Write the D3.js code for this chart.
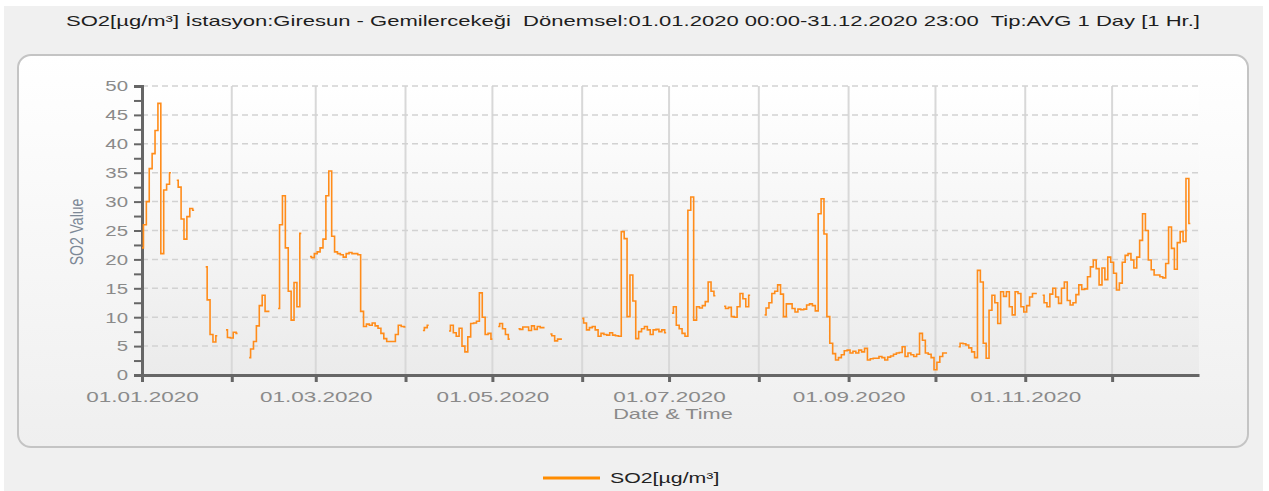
<!DOCTYPE html>
<html>
<head>
<meta charset="utf-8">
<script src="https://cdn.jsdelivr.net/npm/d3@7"></script>
<style>
  body { margin: 0; background: #ffffff; }
  svg { display: block; font-family: "Liberation Sans", Arial, sans-serif; }
  text { white-space: pre; }
</style>
</head>
<body>
<div id="app"></div>
<script>
(function (d3) {
  'use strict'
  const w = 1269
  const h = 491

  const title = 'SO2[µg/m³] İstasyon:Giresun - Gemilercekeği  Dönemsel:01.01.2020 00:00-31.12.2020 23:00  Tip:AVG 1 Day [1 Hr.]'
  const seriesName = 'SO2[µg/m³]'
  const yTitle = 'SO2 Value'
  const xTitle = 'Date & Time'
  const startDay = new Date(2020, 0, 1)
  const endDay = new Date(2020, 11, 31)
  const yTicks = [0, 5, 10, 15, 20, 25, 30, 35, 40, 45, 50]

  // daily averages, one array per month (null = no data)
  const jan = [22, 26, 30, 35.7, 38.3, 42.3, 47, 21, 32, 33, 35, null, 33.7, 32.5, 27, 23.5, 27.4, 28.8, 28.5, null, null, null, 18.7, 13, 7, 5.7, 6.8, null, null, 7.8, 6.5]
  const feb = [6.4, 7.4, 7.2, null, null, null, 3, 4.5, 5.8, 8.5, 12, 13.8, 11, 11, null, null, 11.5, 26, 31, 22, 14.5, 9.5, 16, 11.8, 24.5, null, null, 20.5, 20.3]
  const mar = [21, 21.3, 22, 23.5, 31, 35.3, 24, 21.3, 21, 20.8, 20.4, 21, 21.2, 21, 21, 20.8, 11, 8.4, 8.8, 8.6, 9, 8.5, 8.1, 7.2, 6.3, 5.8, 5.8, 5.8, 7, 8.6, 8.4]
  const apr = [8.3, null, null, null, null, null, 7.7, 8.2, 8.6, null, null, null, null, null, null, 7.6, 8.6, 7.3, 6.7, 8.1, 5, 4, 6.6, 8.9, 9, 9.3, 14.2, 10, 7, 7.2]
  const may = [6.2, null, 8.4, 8.9, 8, 7, 6.2, null, null, 8, 7.9, 8.3, 8.3, 7.7, 8.5, 7.9, 8.4, 8.2, 8.2, null, 7.1, 6.8, 5.9, 6.2, 6.2, null, null, null, null, null, null]
  const jun = [9.8, 9, 7.8, 8.2, 8.4, 7.8, 6.7, 7.2, 7, 6.9, 7.3, 6.9, 6.8, 6.7, 24.8, 23.6, 10.1, 17.3, 12.8, 6.3, 7.5, 8, 8.4, 7.8, 7, 7.8, 7.9, 7.5, 7.8, 7.3]
  const jul = [null, 10.7, 11.8, 8.6, 8, 7.2, 6.7, 28.5, 30.8, 9.5, 11.8, 11.6, 12, 12.7, 16.1, 14.5, 13.7, null, null, 11.9, 11.5, 11.7, 10.1, 10, 11.8, 14.1, 13.2, 11.8, 13.8, null, null]
  const aug = [null, null, 10.4, 11.6, 12.5, 14.1, 14.5, 15.6, 14, 10.1, 12.3, 12.3, 11.5, 10.9, 11.4, 11.3, 11.4, 12.1, 12.3, 12, 11.1, 27.9, 30.5, 24.4, 10.1, 5.5, 3.7, 2.6, 3, 3.5, 4.2]
  const sep = [4.3, 3.8, 4.1, 3.8, 4.3, 4, 4.6, 2.6, 2.8, 2.9, 2.9, 3.2, 3, 2.6, 3.1, 3.3, 3.6, 3.8, 3.9, 4.9, 3.2, 3.8, 3.5, 3.2, 3.6, 7.2, 6, 3.8, 3.6, 3]
  const oct = [0.9, 2.2, 3.2, 3.8, 3.8, null, null, null, 4.9, 5.5, 5.4, 5.2, 4.7, 4, 3, 18.1, 16.1, 5.5, 2.9, 11.2, 13.8, 12.5, 8.9, 14.4, 13.6, 14.4, 11.8, 10.4, 14.4, 14.1, 11.8]
  const nov = [10.9, 12, 13.5, 14.1, 14.1, null, 13.8, 12.5, 11.8, 14, 15, 13.5, 12.4, 15, 16.1, 12.9, 12.1, 12.5, 13.9, 15.6, 14.8, 14.9, 17, 18.7, 19.9, 18.4, 15.6, 18.5, 16.5, 20.4]
  const dec = [19.5, 17.6, 14.7, 15.9, 19.5, 20.7, 21, 19.9, 18.5, 20.4, 23.3, 27.9, 25, 19.9, 18.2, 17.3, 17.3, 17, 16.8, 19.3, 25.6, 21.9, 18.3, 22.9, 24.8, 23.1, 34, 26.2, null, null, null]

  const values = [].concat(jan, feb, mar, apr, may, jun, jul, aug, sep, oct, nov, dec)
  const days = d3.timeDay.range(startDay, new Date(2021, 0, 1))
  const data = days.map((d, i) => ({ date: d, value: values[i] }))

  // the source picture is widened, so text is drawn wider than normal
  function stretch (k) {
    return function (sel) {
      sel.each(function () {
        const len = this.getComputedTextLength()
        d3.select(this).attr('textLength', len * k).attr('lengthAdjust', 'spacingAndGlyphs')
      })
    }
  }

  const svg = d3.select('#app').append('svg')
    .attr('width', w)
    .attr('height', h)

  const defs = svg.append('defs')
  const g1 = defs.append('linearGradient').attr('id', 'panelGrad').attr('x1', 0).attr('y1', 0).attr('x2', 0).attr('y2', 1)
  g1.append('stop').attr('offset', '0%').attr('stop-color', '#ffffff')
  g1.append('stop').attr('offset', '100%').attr('stop-color', '#efefef')
  const g2 = defs.append('linearGradient').attr('id', 'plotGrad').attr('x1', 0).attr('y1', 0).attr('x2', 0).attr('y2', 1)
  g2.append('stop').attr('offset', '0%').attr('stop-color', '#ffffff')
  g2.append('stop').attr('offset', '100%').attr('stop-color', '#ebebeb')

  svg.append('rect')
    .attr('x', 4).attr('y', 6)
    .attr('width', w - 10).attr('height', h - 6)
    .attr('fill', '#f0f0f0')

  svg.append('text')
    .attr('x', 633).attr('y', 26)
    .attr('text-anchor', 'middle')
    .attr('font-size', 15)
    .attr('fill', '#1e1e1e')
    .attr('textLength', 1134)
    .attr('lengthAdjust', 'spacingAndGlyphs')
    .text(title)

  svg.append('rect')
    .attr('x', 18).attr('y', 55)
    .attr('width', 1230).attr('height', 392)
    .attr('rx', 13)
    .attr('fill', 'url(#panelGrad)')
    .attr('stroke', '#c4c4c4')
    .attr('stroke-width', 2)

  const x = d3.scaleTime().domain([startDay, endDay]).range([142, 1199])
  const y = d3.scaleLinear().domain([0, 50]).range([375, 86])

  svg.append('rect')
    .attr('x', x.range()[0]).attr('y', y(50))
    .attr('width', x.range()[1] - x.range()[0]).attr('height', y(0) - y(50))
    .attr('fill', 'url(#plotGrad)')

  const months = d3.timeMonth.range(startDay, endDay)

  // vertical grid
  svg.append('g').selectAll('line')
    .data(months.slice(1))
    .enter().append('line')
    .attr('x1', (d) => x(d)).attr('x2', (d) => x(d))
    .attr('y1', y(50)).attr('y2', y(0))
    .attr('stroke', '#d8d8d8')
    .attr('stroke-width', 2)

  // horizontal grid
  svg.append('g').selectAll('line')
    .data(yTicks.slice(1))
    .enter().append('line')
    .attr('x1', x.range()[0]).attr('x2', x.range()[1])
    .attr('y1', (d) => y(d)).attr('y2', (d) => y(d))
    .attr('stroke', '#d2d2d2')
    .attr('stroke-width', 1.5)
    .attr('stroke-dasharray', '6,4')

  // y axis
  const yAxis = svg.append('g')
    .attr('transform', 'translate(' + x.range()[0] + ',0)')
    .call(d3.axisLeft(y).tickValues(d3.range(0, 50.1, 2.5)).tickSize(8).tickFormat((d) => d % 5 === 0 ? d : ''))
  yAxis.select('.domain').attr('stroke', '#666').attr('stroke-width', 3)
  yAxis.selectAll('.tick line').attr('stroke', '#666').attr('stroke-width', 2)
  yAxis.selectAll('.tick text')
    .attr('font-size', 15)
    .attr('font-family', '"Liberation Sans", Arial, sans-serif')
    .attr('fill', '#8a8a8a')
    .attr('x', -14)
    .call(stretch(1.36))

  // x axis
  const xAxis = svg.append('g')
    .attr('transform', 'translate(0,' + y(0) + ')')
    .call(d3.axisBottom(x).tickValues(months).tickSize(7).tickSizeOuter(0)
      .tickFormat((d, i) => i % 2 === 0 ? d3.timeFormat('%d.%m.%Y')(d) : ''))
  xAxis.select('.domain').attr('stroke', '#666').attr('stroke-width', 3)
  xAxis.selectAll('.tick line').attr('stroke', '#666').attr('stroke-width', 3)
  xAxis.selectAll('.tick text')
    .attr('font-size', 15)
    .attr('font-family', '"Liberation Sans", Arial, sans-serif')
    .attr('fill', '#8a8a8a')
    .attr('y', 16)
    .call(stretch(1.5))

  svg.append('text')
    .attr('x', 673).attr('y', 419)
    .attr('text-anchor', 'middle')
    .attr('font-size', 15)
    .attr('fill', '#8a8a8a')
    .text(xTitle)
    .call(stretch(1.45))

  svg.append('g')
    .attr('transform', 'translate(83,232) scale(1.36,1) rotate(-90)')
    .append('text')
    .attr('text-anchor', 'middle')
    .attr('font-size', 14)
    .attr('fill', '#7d8896')
    .text(yTitle)

  // series
  const line = d3.line()
    .defined((d) => d.value !== null)
    .x((d) => x(d.date))
    .y((d) => y(d.value))
    .curve(d3.curveStep)

  svg.append('path')
    .datum(data)
    .attr('d', line)
    .attr('fill', 'none')
    .attr('stroke', '#ff8c1a')
    .attr('stroke-width', 1.6)

  // legend
  const legend = svg.append('g').attr('transform', 'translate(543,478)')
  legend.append('line')
    .attr('x1', 0).attr('x2', 57)
    .attr('stroke', '#ff8c00')
    .attr('stroke-width', 3)
  legend.append('text')
    .attr('x', 67).attr('y', 5)
    .attr('font-size', 15)
    .attr('fill', '#222')
    .text(seriesName)
    .call(stretch(1.42))

}(d3))
</script>
</body>
</html>
